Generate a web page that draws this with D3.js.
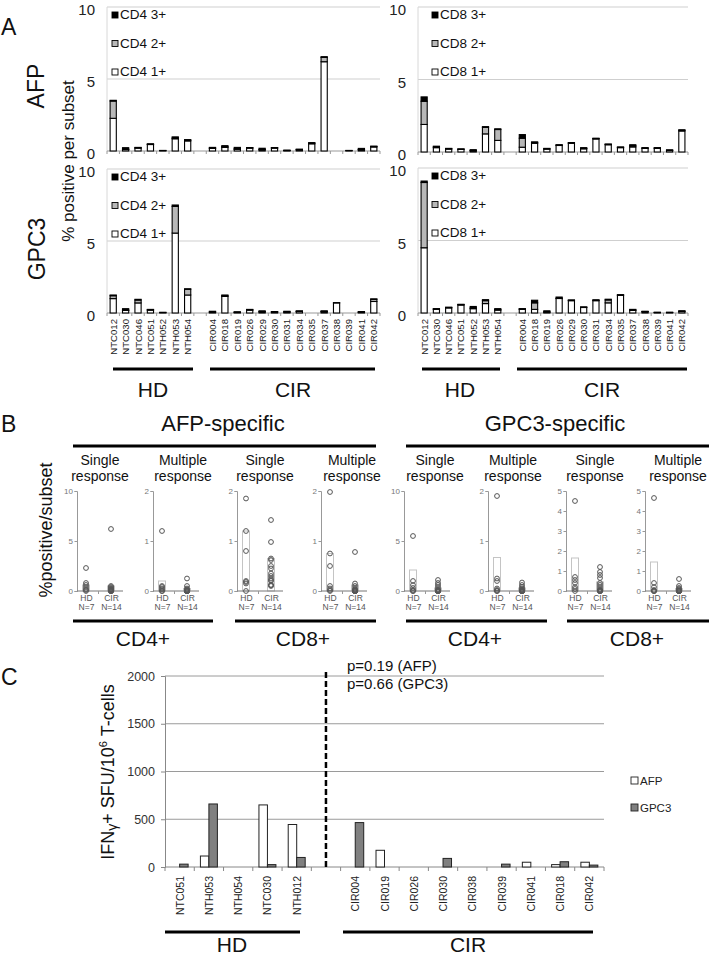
<!DOCTYPE html>
<html><head><meta charset="utf-8">
<script src="https://cdn.jsdelivr.net/npm/d3@7"></script>
<style>body{margin:0;background:#fff} svg{display:block} text{font-family:"Liberation Sans",Arial,sans-serif}</style>
</head><body><svg id="c" width="709" height="956"></svg>
<script>
// ---------- DATA ----------
const hdA = ["NTC012","NTC030","NTC046","NTC051","NTH052","NTH053","NTH054"];
const cirA = ["CIR004","CIR018","CIR019","CIR026","CIR029","CIR030","CIR031","CIR034","CIR035","CIR037","CIR038","CIR039","CIR041","CIR042"];
const yTicksA = [0,5,10];
// order: hdA then cirA
const afpCD4_1 = [2.27,0.1,0.2,0.45,0.03,0.85,0.7, 0.18,0.25,0.12,0.2,0.08,0.2,0.03,0.08,0.5,6.2,0,0.03,0.08,0.28];
const afpCD4_2 = [1.2,0.03,0.02,0.02,0,0.05,0.05, 0.03,0.05,0.03,0.02,0.03,0.02,0.01,0.02,0.05,0.3,0,0,0.02,0.03];
const afpCD4_3 = [0.05,0.1,0.03,0.03,0.01,0.08,0.04, 0.04,0.07,0.1,0.02,0.08,0.02,0.02,0.03,0.03,0.05,0,0.01,0.08,0.03];
const afpCD8_1 = [1.9,0.3,0.2,0.18,0.08,1.25,0.8, 0.33,0.6,0.2,0.45,0.6,0.22,0.9,0.5,0.3,0.35,0.25,0.25,0.1,1.45];
const afpCD8_2 = [1.6,0.05,0.03,0.02,0.02,0.45,0.75, 0.62,0.05,0.02,0.03,0.03,0.03,0.03,0.03,0.02,0.08,0.02,0.02,0.02,0.05];
const afpCD8_3 = [0.3,0.05,0.02,0.01,0.06,0.05,0.05, 0.25,0.05,0.03,0.02,0.02,0.05,0.02,0.02,0.03,0.07,0.03,0.03,0.03,0.03];
const gpcCD4_1 = [1.0,0.18,0.7,0.2,0.03,5.55,1.25, 0.05,1.15,0.04,0.2,0.07,0.06,0.06,0.1,0,0.08,0.7,0,0.04,0.8];
const gpcCD4_2 = [0.2,0.02,0.2,0.02,0,1.85,0.4, 0.02,0.05,0.02,0.02,0.03,0.02,0.02,0.02,0,0.03,0.02,0,0.02,0.15];
const gpcCD4_3 = [0.05,0.1,0.05,0.03,0.02,0.1,0.03, 0.05,0.05,0.02,0.03,0.05,0.02,0.04,0.03,0,0.04,0,0,0.04,0.03];
const gpcCD8_1 = [4.5,0.25,0.35,0.55,0.3,0.65,0.2, 0.25,0.25,0.05,1.0,0.85,0.38,0.85,0.7,1.22,0.18,0.08,0.03,0.03,0.1];
const gpcCD8_2 = [4.5,0.03,0.03,0.03,0.05,0.2,0.03, 0.03,0.45,0.03,0.02,0.03,0.02,0.03,0.2,0.02,0.03,0.02,0.01,0.01,0.03];
const gpcCD8_3 = [0.1,0.02,0.02,0.02,0.1,0.07,0.07, 0.02,0.18,0.07,0.08,0.02,0.02,0.03,0.05,0.02,0.04,0.02,0.01,0.01,0.02];

// Panel B: individual responses (HD N=7, CIR N=14) and bar heights
const bTitles = ["Single","Multiple","Single","Multiple","Single","Multiple","Single","Multiple"];
const bGroups = ["HD","CIR"];
const bN = {HD:"N=7", CIR:"N=14"};
const bMax = [10,2,2,2,10,2,5,5];
const bHD = [
  [2.3,0.8,0.6,0.4,0.2,0.1,0],
  [1.2,0.1,0.08,0.05,0.03,0,0],
  [1.85,1.2,0.8,0.2,0.18,0.15,0],
  [1.98,0.75,0.5,0.1,0.05,0.02,0],
  [5.5,1.0,0.6,0.3,0.1,0,0],
  [1.9,0.25,0.2,0.05,0.02,0,0],
  [4.5,0.7,0.55,0.4,0.2,0.1,0],
  [4.65,0.4,0.2,0.05,0,0,0]
];
const bCIR = [
  [6.2,0.5,0.4,0.3,0.2,0.2,0.1,0.1,0.1,0,0,0,0,0],
  [0.25,0.1,0.05,0.03,0.02,0,0,0,0,0,0,0,0,0],
  [1.42,0.98,0.65,0.62,0.5,0.45,0.35,0.3,0.25,0.22,0.2,0.12,0.12,0.1],
  [0.78,0.15,0.1,0.05,0.03,0.02,0,0,0,0,0,0,0,0],
  [1.1,0.8,0.6,0.4,0.2,0.1,0.05,0,0,0,0,0,0,0],
  [0.17,0.12,0.08,0.05,0.03,0.02,0,0,0,0,0,0,0,0],
  [1.2,0.95,0.8,0.65,0.4,0.3,0.2,0.1,0.05,0,0,0,0,0],
  [0.6,0.25,0.15,0.1,0.05,0.02,0,0,0,0,0,0,0,0]
];
const bBarHD = [0.6,0.2,1.2,0.75,2.1,0.67,1.65,1.45];
const bBarCIR = [0.5,0.05,0.65,0.12,0.3,0.06,0.45,0.12];

// Panel C
const hdC = ["NTC051","NTH053","NTH054","NTC030","NTH012"];
const cirC = ["CIR004","CIR019","CIR026","CIR030","CIR038","CIR039","CIR041","CIR018","CIR042"];
const afpC = [0,115,0,650,445, 0,175,0,0,0,0,50,25,50];
const gpcC = [30,660,0,25,100, 465,0,0,90,0,30,0,55,20];
const yTicksC = [0,500,1000,1500,2000];

// ---------- DRAW ----------
const svg = d3.select("#c");
const F = "Liberation Sans, Arial, sans-serif";
const FC = "Lato, 'Open Sans', sans-serif";

function txt(x,y,s,size,opt={}){
  const t = svg.append("text").attr("x",x).attr("y",y).text(s)
    .attr("font-size",size).attr("fill",opt.fill||"#111")
    .attr("text-anchor",opt.anchor||"start");
  if(opt.rot) t.attr("transform",`rotate(${opt.rot},${x},${y})`);
  if(opt.family) t.attr("font-family",opt.family);
  return t;
}
function hline(x1,x2,y,w){ svg.append("line").attr("x1",x1).attr("x2",x2).attr("y1",y).attr("y2",y).attr("stroke","#000").attr("stroke-width",w||3); }

// ---- Panel A ----
const domA = [...hdA, "gap", ...cirA];
function panelA(x0,x1,yTop,yBot,l1,l2,l3,label,showX,legDx){
  const x = d3.scaleBand().domain(domA).range([x0,x1]).paddingInner(0.5).paddingOuter(0.25);
  const y = d3.scaleLinear().domain([0,10]).range([yBot,yTop]);
  const g = svg.append("g");
  g.selectAll("line.grid").data(yTicksA.filter(d=>d>0)).join("line")
    .attr("x1",x0).attr("x2",x1).attr("y1",d=>y(d)).attr("y2",d=>y(d)).attr("stroke","#cfcfcf");
  g.append("line").attr("x1",x0).attr("x2",x0).attr("y1",yTop).attr("y2",yBot).attr("stroke","#d8d8d8");
  const ya = d3.axisLeft(y).tickValues(yTicksA).tickSize(0).tickPadding(12);
  const ga = g.append("g").attr("transform",`translate(${x0},0)`).call(ya);
  ga.select(".domain").remove();
  ga.selectAll("text").attr("font-size",15).attr("fill","#222").attr("font-family",F).attr("dy","0.5em");
  g.append("line").attr("x1",x0).attr("x2",x1).attr("y1",yBot).attr("y2",yBot).attr("stroke","#999");
  const st = (x1-x0)/domA.length;
  g.selectAll("line.tk").data(d3.range(domA.length+1)).join("line")
    .attr("x1",i=>x0+i*st).attr("x2",i=>x0+i*st).attr("y1",yBot).attr("y2",yBot+3).attr("stroke","#999");
  const names = [...hdA, ...cirA];
  const segs = [];
  names.forEach((n,i)=>{
    const a=l1[i], b=l2[i], c=l3[i];
    segs.push({n, lo:0, hi:a, fill:"#fff"});
    segs.push({n, lo:a, hi:a+b, fill:"#b8b8b8"});
    segs.push({n, lo:a+b, hi:a+b+c, fill:"#000"});
  });
  g.selectAll("rect.seg").data(segs.filter(s=>s.hi>s.lo)).join("rect")
    .attr("x",d=>x(d.n)).attr("width",x.bandwidth())
    .attr("y",d=>y(d.hi)).attr("height",d=>Math.max(0.01,y(d.lo)-y(d.hi)))
    .attr("fill",d=>d.fill).attr("stroke","#000").attr("stroke-width",1.1);
  const leg = [[label+" 3+","#000"],[label+" 2+","#b8b8b8"],[label+" 1+","#fff"]];
  leg.forEach((L,i)=>{
    const ly = yTop + 12 + i*28.5;
    g.append("rect").attr("x",x0+legDx).attr("y",ly-7).attr("width",6).attr("height",6)
      .attr("fill",L[1]).attr("stroke","#000").attr("stroke-width",0.9);
    txt(x0+legDx+8, ly, L[0], 13.5, {fill:"#111"});
  });
  if(showX){
    names.forEach(n=>{
      txt(x(n)+x.bandwidth()/2+3.5, yBot+6, n, 9.6, {anchor:"end", rot:-90, fill:"#222"});
    });
  }
}
panelA(107,380,7,151,afpCD4_1,afpCD4_2,afpCD4_3,"CD4",false,5);
panelA(418,688,7,152,afpCD8_1,afpCD8_2,afpCD8_3,"CD8",false,14);
panelA(107,380,169,313,gpcCD4_1,gpcCD4_2,gpcCD4_3,"CD4",true,5);
panelA(418,688,168,313,gpcCD8_1,gpcCD8_2,gpcCD8_3,"CD8",true,14);

txt(1,35,"A",23);
txt(44,86,"AFP",23,{anchor:"middle",rot:-90});
txt(45,249,"GPC3",23,{anchor:"middle",rot:-90});
txt(74,161,"% positive per subset",17,{anchor:"middle",rot:-90});

hline(113,193,369); hline(210,375,369);
hline(422,500,369); hline(517,687,369);
txt(153,397,"HD",21,{anchor:"middle"}); txt(293,397,"CIR",21,{anchor:"middle"});
txt(460,397,"HD",21,{anchor:"middle"}); txt(602,397,"CIR",21,{anchor:"middle"});

// ---- Panel B ----
txt(1,432,"B",23);
txt(223,431,"AFP-specific",22,{anchor:"middle"});
txt(555,431,"GPC3-specific",22,{anchor:"middle"});
hline(73,376,446); hline(406,709,446);
txt(52,530,"%positive/subset",18,{anchor:"middle",rot:-90});

const bAxisX = [77,153,237,321,404,488,566,645];
const bTitleX = [100,183,265,352,435,513,595,678];
bAxisX.forEach((ax,k)=>{
  const g = svg.append("g");
  txt(bTitleX[k],465,bTitles[k],14,{anchor:"middle"});
  txt(bTitleX[k],481,"response",14,{anchor:"middle"});
  const y = d3.scaleLinear().domain([0,bMax[k]]).range([591,491]);
  const xg = d3.scalePoint().domain(bGroups).range([ax+9, ax+34]);
  [["HD",bBarHD[k]],["CIR",bBarCIR[k]]].forEach(([grp,v])=>{
    g.append("rect").attr("x",xg(grp)-3.5).attr("width",7).attr("y",y(v)).attr("height",591-y(v))
      .attr("fill","none").attr("stroke","#c4c4c4").attr("stroke-width",1);
  });
  const ya = d3.axisLeft(y).ticks(bMax[k]===5?5:2).tickSize(2.5).tickPadding(1.5);
  const ga = g.append("g").attr("transform",`translate(${ax},0)`).call(ya);
  ga.select(".domain").attr("stroke","#999");
  ga.selectAll(".tick line").attr("stroke","#999");
  ga.selectAll("text").attr("font-size",8).attr("fill","#777").attr("font-family",F);
  g.append("line").attr("x1",ax).attr("x2",ax+46).attr("y1",591).attr("y2",591).attr("stroke","#777");
  g.append("line").attr("x1",ax+21.5).attr("x2",ax+21.5).attr("y1",591).attr("y2",594).attr("stroke","#999");
  const pts = [...bHD[k].map(v=>({g:"HD",v})), ...bCIR[k].map(v=>({g:"CIR",v}))];
  g.selectAll("circle").data(pts).join("circle")
    .attr("cx",d=>xg(d.g)).attr("cy",d=>y(d.v)).attr("r",2.4)
    .attr("fill","none").attr("stroke","#555").attr("stroke-width",1);
  // group labels through a bottom axis
  const xa = d3.axisBottom(xg).tickSize(0).tickPadding(3);
  const gx = g.append("g").attr("transform","translate(0,591)").call(xa);
  gx.select(".domain").remove();
  gx.selectAll(".tick text").each(function(d){
    const t = d3.select(this).text(null).attr("fill","#555").attr("font-size",8.5).attr("font-family",F).attr("dy",null).attr("y",10);
    t.append("tspan").attr("x",0).text(d);
    t.append("tspan").attr("x",0).attr("dy",9).text(bN[d]);
  });
});
hline(73,213,621); hline(235,376,621); hline(406,547,621); hline(567,709,621);
txt(143,646,"CD4+",21,{anchor:"middle"}); txt(303,646,"CD8+",21,{anchor:"middle"});
txt(475,646,"CD4+",21,{anchor:"middle"}); txt(637,646,"CD8+",21,{anchor:"middle"});

// ---- Panel C ----
txt(1,685,"C",23);
const domC = [...hdC,"gap",...cirC];
const xC = d3.scaleBand().domain(domC).range([165,604]);
const xSub = d3.scaleBand().domain(["AFP","GPC3"]).range([0,xC.step()*0.58]);
const yC = d3.scaleLinear().domain([0,2000]).range([867,676]);
const gC = svg.append("g");
gC.selectAll("line.gr").data(yTicksC.filter(d=>d>0)).join("line")
  .attr("x1",165).attr("x2",604).attr("y1",d=>yC(d)).attr("y2",d=>yC(d)).attr("stroke","#9a9a9a");
const yaC = d3.axisLeft(yC).tickValues(yTicksC).tickFormat(d3.format("d")).tickSize(4).tickPadding(6);
const gaC = gC.append("g").attr("transform","translate(165,0)").call(yaC);
gaC.select(".domain").attr("stroke","#888");
gaC.selectAll(".tick line").attr("stroke","#888");
gaC.selectAll("text").attr("font-size",12.5).attr("fill","#333").attr("font-family",FC);
gC.append("line").attr("x1",165).attr("x2",604).attr("y1",867).attr("y2",867).attr("stroke","#888");
gC.selectAll("line.tk").data(d3.range(domC.length+1)).join("line")
  .attr("x1",i=>165+i*xC.step()).attr("x2",i=>165+i*xC.step()).attr("y1",867).attr("y2",871).attr("stroke","#888");
const namesC = [...hdC,...cirC];
const barsC = [];
namesC.forEach((n,i)=>{ barsC.push({n,s:"AFP",v:afpC[i]}); barsC.push({n,s:"GPC3",v:gpcC[i]}); });
const off = (xC.step()-xSub.range()[1])/2;
gC.selectAll("rect.b").data(barsC.filter(d=>d.v>0)).join("rect")
  .attr("x",d=>xC(d.n)+off+xSub(d.s)).attr("width",xSub.bandwidth())
  .attr("y",d=>yC(d.v)).attr("height",d=>867-yC(d.v))
  .attr("fill",d=>d.s==="AFP"?"#fff":"#808080").attr("stroke","#222").attr("stroke-width",1);
namesC.forEach(n=>{
  txt(xC(n)+xC.bandwidth()/2+4, 876, n, 10.5, {anchor:"end", rot:-90, family:FC, fill:"#222"});
});
const gxC = xC("gap")+xC.bandwidth()/2;
gC.append("line").attr("x1",gxC).attr("x2",gxC).attr("y1",672).attr("y2",867)
  .attr("stroke","#000").attr("stroke-width",2.5).attr("stroke-dasharray","6,3");
txt(347,671,"p=0.19 (AFP)",15);
txt(347,689,"p=0.66 (GPC3)",15);
[["AFP","#fff"],["GPC3","#808080"]].forEach((L,i)=>{
  const ly = 785 + i*27;
  svg.append("rect").attr("x",631).attr("y",ly-8).attr("width",7).attr("height",7)
    .attr("fill",L[1]).attr("stroke","#222").attr("stroke-width",0.9);
  txt(640,ly,L[0],11.5,{family:FC,fill:"#222"});
});
const yl = svg.append("text").attr("transform","translate(114,772) rotate(-90)")
  .attr("text-anchor","middle").attr("font-size",18).attr("fill","#111");
yl.append("tspan").text("IFN");
yl.append("tspan").text("γ").attr("font-size",14).attr("dy",3);
yl.append("tspan").text("+ SFU/10").attr("dy",-3);
yl.append("tspan").text("6").attr("font-size",11).attr("dy",-7);
yl.append("tspan").text(" T-cells").attr("dy",7);
hline(165,300,932); hline(343,593,932);
txt(232,952,"HD",21,{anchor:"middle"}); txt(468,952,"CIR",21,{anchor:"middle"});
</script></body></html>
